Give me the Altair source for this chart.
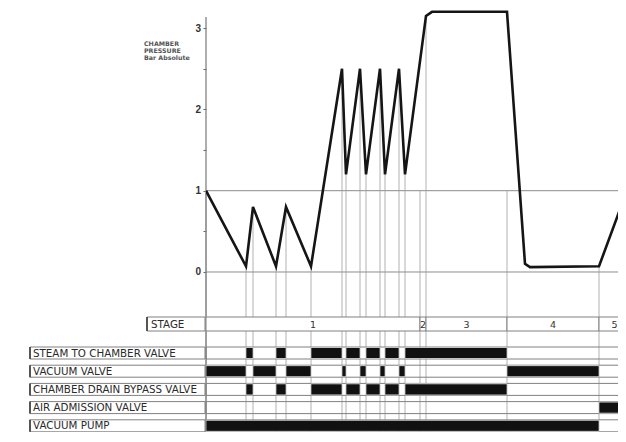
import altair as alt
import pandas as pd

# ---- pressure curve (time units, bar absolute)
curve_t = [0, 40, 47, 70, 80, 105, 136, 140, 154, 160, 174, 179, 193, 199, 220, 226, 301, 319, 324, 393, 420]
curve_p = [1.0, 0.07, 0.8, 0.07, 0.8, 0.07, 2.5, 1.2, 2.5, 1.2, 2.5, 1.2, 2.5, 1.2, 3.15, 3.2, 3.2, 0.1, 0.06, 0.07, 0.97]

# ---- event marker lines (time, pressure at which the line starts)
event_t = [0, 40, 47, 70, 80, 105, 136, 140, 154, 160, 174, 179, 193, 199, 214, 220, 301, 393]
event_top = [1.0, 0.07, 0.8, 0.07, 0.8, 0.07, 2.5, 1.2, 2.5, 1.2, 2.5, 1.2, 2.5, 1.2, 1.0, 3.15, 1.0, 0.07]

# ---- stages
stage_names = ["1", "2", "3", "4", "5"]
stage_start = [0, 214, 220, 301, 393]
stage_end = [214, 220, 301, 393, 424]

# ---- valves: on intervals
valve_names = ["STEAM TO CHAMBER VALVE", "VACUUM VALVE", "CHAMBER DRAIN BYPASS VALVE",
               "AIR ADMISSION VALVE", "VACUUM PUMP"]
steam_on = [(40, 47), (70, 80), (105, 136), (140, 154), (160, 174), (179, 193), (199, 301)]
vacuum_on = [(0, 40), (47, 70), (80, 105), (136, 140), (154, 160), (174, 179), (193, 199), (301, 393)]
drain_on = [(40, 47), (70, 80), (105, 136), (140, 154), (160, 174), (179, 193), (199, 301)]
air_on = [(393, 424)]
pump_on = [(0, 393)]
valve_on = [steam_on, vacuum_on, drain_on, air_on, pump_on]

grid_p = [0, 1]
tick_vals = [0, 0.5, 1, 1.5, 2, 2.5, 3]

FONT = "DejaVu Sans"
LFS = 10.3
W, H = 412, 424
xs = alt.Scale(domain=[0, 412], nice=False, zero=False)
ys = alt.Scale(domain=[-1.968, 3.247], nice=False, zero=False)
yaxis = alt.Axis(values=tick_vals, labelExpr="datum.value % 1 == 0 ? datum.label : ''",
                 domain=False, grid=False, tickSize=3, tickColor="#666666", tickWidth=1,
                 labelPadding=2.5, labelFontSize=10, labelFontWeight="bold",
                 labelColor="#333333", labelFont="Liberation Sans", title=None)

one = pd.DataFrame({"a": [0]})
curve_df = pd.DataFrame({"t": curve_t, "p": curve_p})
event_df = pd.DataFrame({"t": event_t, "top": event_top})
grid_df = pd.DataFrame({"p": grid_p})
stage_df = pd.DataFrame({"name": stage_names, "s": stage_start, "e": stage_end})
stage_df["mid"] = (stage_df["s"] + stage_df["e"]) / 2

layers = []

# horizontal grid lines at 0 and 1 bar
layers.append(
    alt.Chart(grid_df).mark_rule(color="#8c8c8c", strokeWidth=1).encode(
        x=alt.value(0), x2=alt.value(W),
        y=alt.Y("p:Q", scale=ys, axis=yaxis))
)

# event lines
layers.append(
    alt.Chart(event_df).mark_rule(color="#a0a0a0", strokeWidth=0.8).encode(
        x=alt.X("t:Q", scale=xs, axis=None),
        y=alt.Y("top:Q", scale=ys, axis=yaxis),
        y2=alt.value(H))
)

# axis line
layers.append(
    alt.Chart(one).mark_rule(color="#777777", strokeWidth=1.2).encode(
        x=alt.value(0), y=alt.value(9), y2=alt.value(H))
)

# pressure curve
layers.append(
    alt.Chart(curve_df).mark_line(color="#151515", strokeWidth=2.6, clip=True).encode(
        x=alt.X("t:Q", scale=xs, axis=None),
        y=alt.Y("p:Q", scale=ys, axis=yaxis))
)

# axis title (small stacked text)
layers.append(
    alt.Chart(one).mark_text(text="CHAMBER\nPRESSURE\nBar Absolute", lineBreak="\n",
                             align="left", baseline="middle", fontSize=6.3, lineHeight=6.8,
                             font=FONT, fontWeight="bold", color="#555555").encode(
        x=alt.value(-62), y=alt.value(36))
)

# stage row
sy0, sy1 = 309, 323
layers.append(
    alt.Chart(one).mark_rect(fill="white", stroke="#808080", strokeWidth=1).encode(
        x=alt.value(-59), x2=alt.value(-1), y=alt.value(sy0), y2=alt.value(sy1))
)
layers.append(
    alt.Chart(one).mark_rule(color="#555555", strokeWidth=2).encode(
        x=alt.value(-59), y=alt.value(sy0), y2=alt.value(sy1))
)
layers.append(
    alt.Chart(one).mark_text(text="STAGE", align="left", baseline="middle", fontSize=LFS,
                             font=FONT, color="#2a2a2a").encode(
        x=alt.value(-55), y=alt.value((sy0 + sy1) / 2 + 0.5))
)
layers.append(
    alt.Chart(stage_df).mark_rect(fill="white", stroke="#808080", strokeWidth=1, clip=True).encode(
        x=alt.X("s:Q", scale=xs, axis=None), x2="e:Q",
        y=alt.value(sy0), y2=alt.value(sy1))
)
layers.append(
    alt.Chart(stage_df).mark_text(baseline="middle", fontSize=9.5, font=FONT, color="#333333").encode(
        x=alt.X("mid:Q", scale=xs, axis=None), y=alt.value((sy0 + sy1) / 2 + 0.5), text="name:N")
)

# valve rows
row0, step, rh = 339, 18.2, 12
for i, (name, ons) in enumerate(zip(valve_names, valve_on)):
    y0 = row0 + step * i
    y1 = y0 + rh
    layers.append(
        alt.Chart(one).mark_rect(fill="white", stroke="#808080", strokeWidth=1).encode(
            x=alt.value(-176), x2=alt.value(-1), y=alt.value(y0), y2=alt.value(y1))
    )
    layers.append(
        alt.Chart(one).mark_rule(color="#555555", strokeWidth=2).encode(
            x=alt.value(-176), y=alt.value(y0), y2=alt.value(y1))
    )
    layers.append(
        alt.Chart(one).mark_text(text=name, align="left", baseline="middle", fontSize=LFS,
                                 font=FONT, color="#2a2a2a").encode(
            x=alt.value(-173), y=alt.value((y0 + y1) / 2 + 0.5))
    )
    layers.append(
        alt.Chart(one).mark_rect(fill=None, stroke="#808080", strokeWidth=1).encode(
            x=alt.value(0), x2=alt.value(W + 2), y=alt.value(y0), y2=alt.value(y1))
    )
    bars = pd.DataFrame({"s": [a for a, b in ons], "e": [b for a, b in ons]})
    layers.append(
        alt.Chart(bars).mark_rect(fill="#111111", stroke="white", strokeWidth=0.6, clip=True).encode(
            x=alt.X("s:Q", scale=xs, axis=None), x2="e:Q",
            y=alt.value(y0 + 0.5), y2=alt.value(y1 - 0.5))
    )

chart = alt.layer(*layers).properties(
    width=W, height=H,
    autosize=alt.AutoSizeParams(type="none"),
    padding={"left": 198, "top": 0, "right": 0, "bottom": 0},
    background="white",
).configure_view(stroke=None)

chart.save("out.html", embed_options={"renderer": "svg", "actions": False})
